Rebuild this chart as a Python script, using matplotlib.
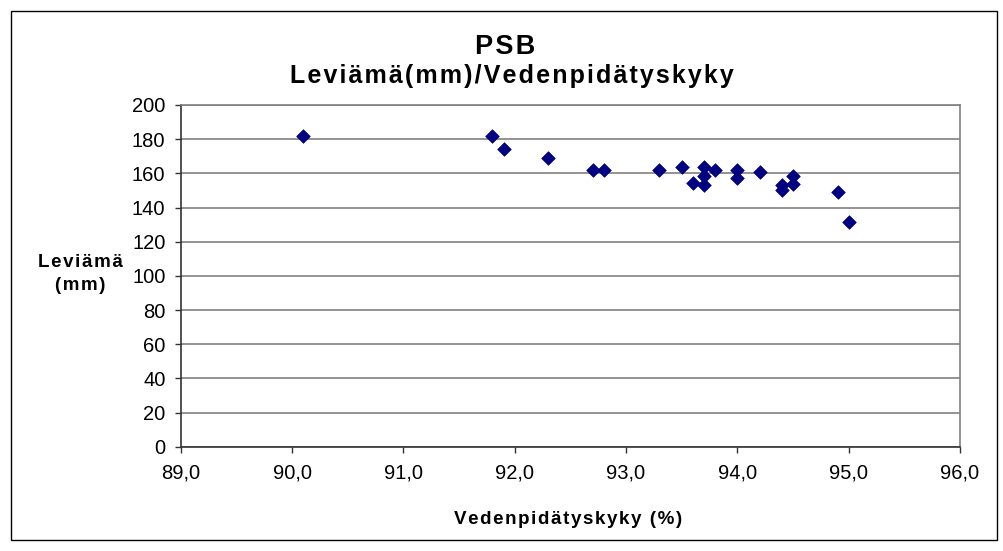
import matplotlib
matplotlib.use("Agg")
import matplotlib.pyplot as plt
from matplotlib.patches import Rectangle
from matplotlib.ticker import FuncFormatter

plt.rcParams['font.family'] = ['Liberation Sans', 'DejaVu Sans']

# Vedenpidätyskyky (%) ja leviämä (mm)
vedenpidatys = [90.1, 91.8, 91.9, 92.3, 92.7, 92.8, 93.3, 93.5, 93.6, 93.7,
                93.7, 93.7, 93.8, 94.0, 94.0, 94.2, 94.4, 94.4, 94.5, 94.5,
                94.9, 95.0]
leviama = [182, 182, 174.5, 169, 162, 162, 162, 163.5, 154.5, 164,
           158.5, 153, 162, 162, 157.5, 161, 153, 150, 158.5, 153.5,
           149, 131.5]

x_ticks = [89, 90, 91, 92, 93, 94, 95, 96]
y_ticks = list(range(0, 201, 20))


def spaced(s, n=1):
    # Excel-tyylinen harva kirjainväli
    return ('\u200a' * n).join(s)


W, H = 1004, 551
fig = plt.figure(figsize=(W / 100, H / 100), dpi=100)
fig.patches.append(Rectangle((11 / W, 1 - 540 / H), (997 - 11) / W, (540 - 11) / H,
                             transform=fig.transFigure, fill=False,
                             edgecolor='black', linewidth=1.0))

ax = fig.add_axes([180.7 / W, 1 - 446.7 / H, (960 - 180.7) / W, (446.7 - 105) / H])
ax.scatter(vedenpidatys, leviama, marker='D', s=48, color='#000080',
           edgecolors='#000080', linewidths=0.5, zorder=3)

ax.set_xlim(89, 96)
ax.set_ylim(0, 200)
ax.set_xticks(x_ticks)
ax.set_yticks(y_ticks)
ax.xaxis.set_major_formatter(FuncFormatter(lambda v, p: f"{v:.1f}".replace('.', ',')))
ax.yaxis.grid(True, color='#808080', linewidth=1.2)
ax.set_axisbelow(True)

ax.tick_params(axis='both', direction='out', length=4, width=1, labelsize=14.5,
               colors='#333333', labelcolor='black')
ax.tick_params(axis='x', pad=8)
ax.tick_params(axis='y', pad=7)

for side in ['left', 'bottom']:
    ax.spines[side].set_color('#333333')
    ax.spines[side].set_linewidth(1.2)
for side in ['top', 'right']:
    ax.spines[side].set_color('#808080')
    ax.spines[side].set_linewidth(1.2)

fig.text(505 / W, 1 - 53.5 / H, spaced("PSB"), ha='center', va='baseline',
         fontsize=19.5, fontweight='bold')
fig.text(512 / W, 1 - 83.5 / H, spaced("Leviämä(mm)/Vedenpidätyskyky"), ha='center',
         va='baseline', fontsize=18, fontweight='bold')
fig.text(80 / W, 1 - 274 / H, spaced("Leviämä") + "\n" + spaced("(mm)"),
         ha='center', va='center', fontsize=13.5, fontweight='bold', linespacing=1.5)
fig.text(568 / W, 1 - 523.5 / H, spaced("Vedenpidätyskyky (%)"), ha='center',
         va='baseline', fontsize=13.5, fontweight='bold')

fig.savefig("out.png", dpi=100)
